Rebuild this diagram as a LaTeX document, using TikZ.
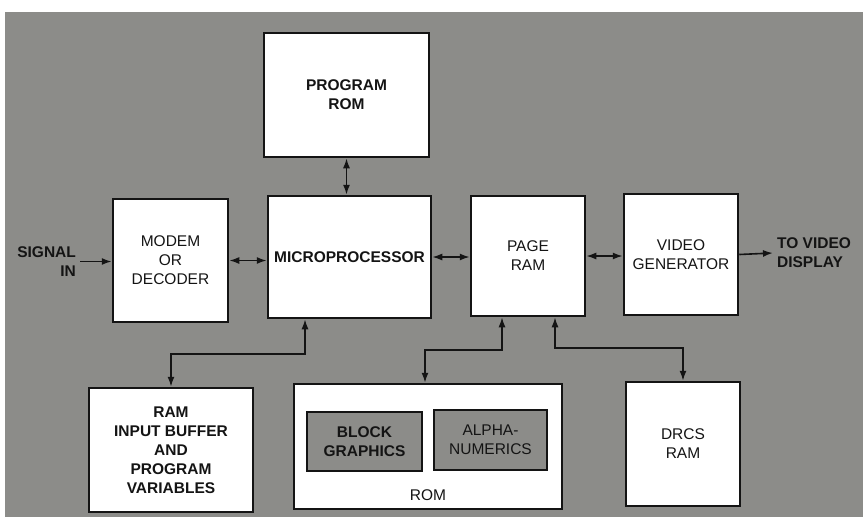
\documentclass[tikz,border=0pt]{standalone}
\usepackage{fontspec}
\setmainfont{Liberation Sans}
\usepackage{tikz}
\usetikzlibrary{arrows.meta,positioning}
\definecolor{panelgray}{RGB}{140,140,137}
\definecolor{inkline}{RGB}{20,20,20}

\begin{document}
\begin{tikzpicture}[x=1pt, y=-1pt, line width=1.6pt, inkline,
    >={Latex[length=10pt,width=7pt]},
    every node/.style={font=\fontsize{15.5}{19}\selectfont, align=center},
    bf/.style={font=\fontsize{15.5}{19}\selectfont\bfseries},
    blk/.style={draw=inkline, fill=white, line width=2.5pt, inner sep=0pt},
    inblk/.style={draw=inkline, fill=panelgray, line width=2.5pt, inner sep=0pt}]

    \useasboundingbox (0,0) rectangle (863,531);
    % 背景 (PANEL)
    \fill[panelgray] (5,12) rectangle (863,517);

    % 程序存储器 (PROGRAM ROM)
    \node[blk, bf, minimum width=165pt, minimum height=124pt] at (346.5,95) (prog) {PROGRAM\\ROM};

    % 调制解调器 (MODEM)
    \node[blk, minimum width=115pt, minimum height=123pt] at (170.5,260.5) (modem) {MODEM\\OR\\DECODER};
    \node[bf, anchor=east, align=right] at (80,261.5) (sig) {SIGNAL\\IN};
    \draw[->] (sig.east) -- (sig.east -| modem.west);

    % 微处理器 (MICROPROCESSOR)
    \node[blk, bf, minimum width=163pt, minimum height=122pt] at (349.5,257) (micro) {MICROPROCESSOR};
    \draw[<->] (modem.east) -- (modem.east -| micro.west);
    \draw[<->] (prog.south) -- (prog.south |- micro.north);

    % 页面存储器 (PAGE RAM)
    \node[blk, minimum width=114pt, minimum height=120pt] at (528,256) (page) {PAGE\\RAM};
    \draw[<->] (micro.east) -- (micro.east -| page.west);

    % 视频发生器 (VIDEO GENERATOR)
    \node[blk, minimum width=114pt, minimum height=121pt] at (681,254.5) (video) {VIDEO\\GENERATOR};
    \draw[<->] (page.east) -- (page.east -| video.west);
    \node[bf, anchor=west, align=left] at (773,253) (disp) {TO VIDEO\\DISPLAY};
    \draw[->] (video.east) -- (disp.west);

    % 随机存储器 (RAM)
    \node[blk, bf, minimum width=164pt, minimum height=124pt] at (171,450) (ramib) {RAM\\INPUT BUFFER\\AND\\PROGRAM\\VARIABLES};
    \draw[<->] ([xshift=-44.5pt]micro.south) -- ++(0,35) -| (ramib.north);

    % 只读存储器 (ROM)
    \node[blk, minimum width=268pt, minimum height=125pt] at (428,446.5) (rom) {};
    \node[inblk, bf, minimum width=115pt, minimum height=59pt] at (364.5,441.5) (block) {BLOCK\\GRAPHICS};
    \node[inblk, minimum width=113pt, minimum height=60pt] at (490.5,440) (alpha) {ALPHA-\\NUMERICS};
    \node[above=5pt of rom.south] (romlbl) {ROM};
    \draw[<->] ([xshift=-26pt]page.south) -- ++(0,33) -| ([xshift=-3pt]rom.north);

    % 字符集存储器 (DRCS RAM)
    \node[blk, minimum width=114pt, minimum height=124pt] at (683,444) (drcs) {DRCS\\RAM};
    \draw[<->] ([xshift=27pt]page.south) -- ++(0,31) -| (drcs.north);
\end{tikzpicture}
\end{document}
